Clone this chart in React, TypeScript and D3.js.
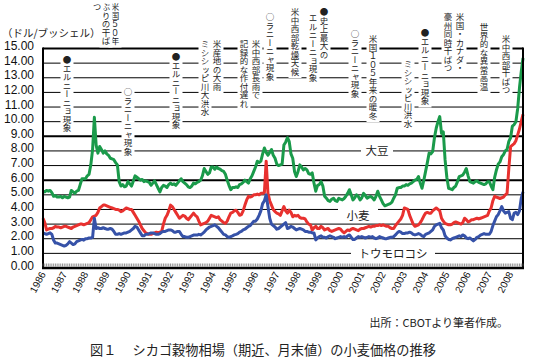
import React from 'react';
import * as d3 from 'd3';

// シカゴ穀物相場（期近、月末値） 1986年1月〜2008年8月
const yearLabels = ['1986', '1987', '1988', '1989', '1990', '1991', '1992', '1993', '1994', '1995', '1996', '1997',
  '1998', '1999', '2000', '2001', '2002', '2003', '2004', '2005', '2006', '2007', '2008'];
const yTicks = [0, 1, 2, 3, 4, 5, 6, 7, 8, 9, 10, 11, 12, 13, 14, 15];

const soybean = [
  5.25, 5.2, 5.3, 5.25, 5.3, 5.15, 4.9, 4.95, 4.85, 4.85, 4.9, 4.8,
  4.9, 4.85, 4.8, 4.85, 5.3, 5.2, 5.1, 5.25, 5.3, 5.7, 6.1, 6.1,
  6.1, 6.3, 6.4, 7.05, 8.1, 10.3, 8.4, 7.85, 8.3, 8.1, 7.85, 8.0,
  7.8, 7.7, 7.5, 7.45, 7.4, 7.2, 7.05, 5.9, 5.6, 5.7, 5.55, 5.6,
  5.9, 5.75, 5.6, 5.95, 6.3, 6.2, 6.1, 6.0, 6.05, 5.9, 5.95, 5.9,
  5.85, 5.65, 5.8, 5.95, 5.7, 5.45, 5.2, 5.5, 5.65, 5.6, 5.5, 5.7,
  5.8, 5.7, 5.75, 5.65, 5.8, 5.95, 6.1, 5.9, 5.8, 5.7, 5.55, 5.5,
  5.6, 5.8, 5.75, 5.85, 5.9, 6.0, 6.3, 6.8, 6.6, 6.4, 6.5, 6.9,
  6.9, 6.75, 6.9, 6.8, 6.75, 6.65, 6.6, 6.4, 6.0, 5.65, 5.35, 5.5,
  5.5, 5.55, 5.5, 5.7, 5.75, 5.85, 6.0, 5.9, 5.8, 6.1, 6.3, 6.6,
  6.9, 7.3, 7.2, 7.3, 7.8, 8.2, 7.9, 7.7, 7.9, 8.1, 7.7, 7.5,
  7.1, 7.0, 7.05, 7.1, 8.4, 8.6, 8.9, 8.65, 7.8, 7.5, 6.6, 6.25,
  6.6, 7.05, 6.9, 6.7, 6.8, 6.7, 6.45, 6.4, 6.5, 5.8, 5.25, 5.65,
  5.7, 5.9, 5.6, 4.9, 4.77, 4.6, 4.55, 4.7, 4.77, 4.6, 4.55, 4.77,
  4.7, 4.65, 4.75, 4.9, 5.1, 5.35, 5.0, 4.65, 4.8, 5.0, 4.9, 4.65,
  4.8, 5.1, 4.95, 4.77, 4.85, 4.9, 4.8, 4.65, 4.9, 5.25, 4.9, 4.65,
  4.4, 4.25, 4.3, 4.35, 4.4, 4.5, 4.77, 5.0, 5.45, 5.5, 5.5, 5.6,
  5.6, 5.7, 5.65, 5.75, 5.8, 5.9, 6.0, 6.05, 6.25, 5.8, 5.45, 6.0,
  6.6, 7.2, 7.85, 7.8, 7.95, 8.9, 9.55, 10.0, 10.35, 9.2, 9.3, 7.4,
  6.2, 5.45, 5.4, 5.35, 5.5, 5.6, 5.9, 6.25, 6.3, 6.35, 6.55, 6.8,
  6.3, 5.9, 5.85, 5.8, 5.9, 5.95, 5.85, 5.8, 5.75, 5.7, 5.75, 5.9,
  5.9, 5.6, 5.35, 6.2, 6.7, 7.1, 7.25, 7.6, 7.75, 8.0, 8.1, 8.65,
  8.9, 9.7, 9.8, 10.0, 10.9, 12.3, 13.4, 14.35,
];

const wheat = [
  3.4, 3.1, 2.6, 2.65, 2.7, 2.7, 2.75, 2.85, 2.8, 2.8, 2.75, 2.8,
  2.85, 2.85, 2.8, 2.75, 2.7, 2.8, 2.85, 2.9, 2.95, 3.0, 3.0, 2.95,
  3.0, 3.05, 3.1, 3.3, 3.5, 3.55, 3.6, 3.8, 4.1, 4.2, 4.3, 4.3,
  4.25, 4.2, 4.15, 4.1, 4.05, 4.0, 4.0, 3.95, 3.85, 3.9, 4.0, 4.1,
  4.05, 4.0, 4.0, 3.8, 3.6, 3.4, 3.2, 2.95, 2.7, 2.55, 2.4, 2.35,
  2.3, 2.3, 2.35, 2.4, 2.45, 2.4, 2.45, 2.5, 3.0, 3.4, 3.6, 3.9,
  4.3, 4.2, 4.0, 3.8, 3.6, 3.4, 3.5, 3.6, 3.55, 3.4, 3.3, 3.45,
  3.6, 3.75, 3.6, 3.5, 3.2, 2.95, 3.0, 3.05, 3.1, 3.2, 3.4, 3.6,
  3.55, 3.5, 3.45, 3.5, 3.3, 3.2, 3.1, 3.05, 3.2, 3.5, 3.75, 3.8,
  3.9, 3.95, 3.8, 3.6, 3.65, 3.9, 4.3, 4.65, 4.9, 4.85, 4.9, 5.0,
  5.0, 5.05, 5.0, 5.1, 5.1, 5.15, 7.3, 5.1, 4.6, 4.3, 4.0, 3.85,
  3.75, 3.7, 3.6, 3.9, 4.2, 3.9, 3.75, 3.95, 3.8, 3.5, 3.6, 3.55,
  3.6, 3.45, 3.4, 3.4, 3.35, 3.15, 3.0, 2.95, 2.6, 2.75, 2.85, 2.7,
  2.7, 2.85, 2.75, 2.6, 2.65, 2.7, 2.55, 2.5, 2.55, 2.6, 2.65, 2.7,
  2.65, 2.5, 2.4, 2.5, 2.6, 2.55, 2.65, 2.7, 2.65, 2.6, 2.55, 2.65,
  2.7, 2.7, 2.75, 2.8, 2.85, 2.8, 2.85, 2.85, 2.9, 2.9, 2.95, 2.9,
  2.95, 2.9, 2.85, 2.85, 2.75, 2.7, 2.7, 2.9, 3.05, 3.2, 3.35, 3.6,
  4.1, 4.05, 4.0, 3.6, 3.3, 3.0, 2.85, 2.9, 2.95, 3.1, 3.3, 3.55,
  3.75, 3.8, 3.75, 3.75, 3.9, 4.0, 4.1, 4.0, 3.9, 3.4, 3.2, 3.05,
  3.0, 2.95, 2.95, 3.0, 3.1, 3.15, 3.1, 3.05, 3.0, 3.1, 3.4, 3.3,
  3.15, 3.2, 3.3, 3.3, 3.35, 3.4, 3.35, 3.4, 3.45, 3.5, 3.55, 3.6,
  3.9, 4.1, 4.6, 4.9, 4.85, 4.8, 4.75, 4.8, 4.85, 5.0, 5.1, 6.8,
  8.3, 8.4, 8.5, 8.7, 9.1, 9.5, 10.0, 10.5,
];

const corn = [
  2.4, 2.35, 2.3, 2.35, 2.4, 2.3, 1.9, 1.7, 1.7, 1.65, 1.6, 1.55,
  1.5, 1.55, 1.65, 1.8, 1.7, 1.6, 1.65, 1.8, 1.85, 1.9, 1.95, 1.9,
  2.0, 2.0, 2.05, 2.05, 2.1, 3.4, 2.7, 2.75, 2.7, 2.7, 2.75, 2.7,
  2.65, 2.65, 2.7, 2.65, 2.5, 2.3, 2.3, 2.35, 2.3, 2.35, 2.4, 2.4,
  2.45, 2.5, 2.6, 2.7, 2.85, 2.8, 2.6, 2.4, 2.2, 2.2, 2.3, 2.3,
  2.35, 2.4, 2.4, 2.35, 2.3, 2.3, 2.35, 2.45, 2.5, 2.5, 2.55, 2.6,
  2.6, 2.55, 2.45, 2.45, 2.5, 2.5, 2.3, 2.15, 2.15, 2.1, 2.1, 2.15,
  2.2, 2.25, 2.26, 2.25, 2.3, 2.26, 2.35, 2.45, 2.6, 2.7, 2.8, 2.85,
  2.9, 2.95, 2.85, 2.75, 2.6, 2.45, 2.3, 2.26, 2.15, 2.1, 2.15, 2.2,
  2.26, 2.3, 2.35, 2.45, 2.5, 2.6, 2.65, 2.75, 2.85, 2.9, 3.05, 3.2,
  3.2, 3.35, 3.6, 3.9, 4.4, 4.6, 5.0, 4.2, 3.4, 3.0, 2.9, 2.8,
  2.65, 2.7, 2.8, 2.9, 3.0, 3.1, 2.7, 2.75, 2.85, 2.8, 2.7, 2.6,
  2.65, 2.7, 2.65, 2.6, 2.5, 2.5, 2.45, 2.45, 2.4, 2.4, 1.92, 2.05,
  2.15, 2.2, 2.1, 2.1, 2.05, 2.15, 2.2, 2.15, 2.1, 2.0, 2.05, 2.1,
  2.15, 2.1, 2.15, 2.1, 2.2, 2.26, 2.1, 1.95, 1.95, 2.05, 2.15, 2.1,
  2.15, 2.1, 2.05, 2.1, 2.15, 2.1, 2.15, 2.05, 2.0, 2.05, 2.15, 2.1,
  2.05, 2.0, 2.0, 2.05, 2.1, 2.1, 2.15, 2.26, 2.4, 2.5, 2.45, 2.35,
  2.35, 2.4, 2.4, 2.45, 2.4, 2.3, 2.26, 2.3, 2.35, 2.3, 2.2, 2.15,
  2.3, 2.35, 2.4, 2.5, 2.6, 2.85, 2.95, 3.0, 3.05, 2.75, 2.6, 2.2,
  2.05, 1.95, 1.92, 2.0, 2.05, 2.1, 2.15, 2.2, 2.15, 2.26, 2.2, 2.05,
  2.0, 2.05, 1.95, 1.85, 1.95, 2.1, 2.15, 2.25, 2.3, 2.35, 2.3, 2.3,
  2.3, 2.5, 2.9, 3.2, 3.5, 3.65, 3.9, 4.2, 3.9, 3.75, 3.8, 3.85,
  3.4, 3.3, 3.75, 3.8, 3.65, 3.9, 4.75, 5.2,
];

const seriesNames = ['大豆', '小麦', 'トウモロコシ'];

// 縦書きの注記（列ごと、右から左）
const notes = [
  { x: 67, y: 56, text: '●エルニーニョ現象' },
  { x: 115, y: 3, text: '米国５０年' },
  { x: 106, y: 3, text: 'ぶりの干ば' },
  { x: 97, y: 3, text: 'つ' },
  { x: 128, y: 88, text: '○ラニーニャ現象' },
  { x: 176, y: 53, text: '●エルニーニョ現象' },
  { x: 217, y: 40, text: '米産地の大雨' },
  { x: 205, y: 40, text: 'ミシシッピ川大洪水' },
  { x: 256, y: 40, text: '米中西部長雨で' },
  { x: 244, y: 40, text: '記録的な作付遅れ' },
  { x: 270, y: 13, text: '○ラニーニャ現象' },
  { x: 295, y: 8, text: '米中西部乾燥天候' },
  { x: 324, y: 8, text: '●史上最大の' },
  { x: 313, y: 14, text: 'エルニーニョ現象' },
  { x: 355, y: 30, text: '○ラニーニャ現象' },
  { x: 373, y: 35, text: '米国１０５年来の暖冬' },
  { x: 425, y: 29, text: '●エルニーニョ現象' },
  { x: 408, y: 60, text: 'ミシシッピ川洪水' },
  { x: 460, y: 13, text: '米国・カナダ・' },
  { x: 448, y: 13, text: '豪州同時干ばつ' },
  { x: 484, y: 23, text: '世界的な異常高温' },
  { x: 506, y: 35, text: '米中西部干ばつ' },
];

const JP = '"Noto Sans CJK JP", sans-serif';
const NUM = '"Liberation Sans", Arial, sans-serif';

export default function App() {
  const x = d3.scaleLinear().domain([0, soybean.length - 1]).range([43, 523]);
  const y = d3.scaleLinear().domain([0, 15]).range([268, 48.5]);
  const line = d3.line<number>().x((_, i) => x(i)).y((d) => y(d));

  const series = [
    { name: seriesNames[0], values: soybean, color: '#1a9a4a', lx: 377, ly: y(8), bw: 32 },
    { name: seriesNames[1], values: wheat, color: '#e8312f', lx: 358, ly: y(3.6), bw: 40 },
    { name: seriesNames[2], values: corn, color: '#3652a8', lx: 393, ly: y(1), bw: 84 },
  ];
  const fs = 8.5;

  return (
    <svg width={537} height={363} style={{ position: 'absolute', left: 0, top: 0, background: '#fff' }}>
      <rect width={537} height={363} fill="#fff" />
      {/* gridlines */}
      {yTicks.slice(1).map((t) => (
        <line key={t} x1={43} x2={523} y1={y(t)} y2={y(t)} stroke="#000"
          strokeWidth={t === 6 || t === 9 || t === 15 ? 2 : 1} />
      ))}
      {/* y tick labels */}
      {yTicks.map((t) => (
        <text key={t} x={34} y={y(t) + 1.5} textAnchor="end" fontFamily={NUM} fontSize={12} fill="#111">
          {t.toFixed(2)}
        </text>
      ))}
      <text x={2} y={37} fontFamily={JP} fontSize={10.5} fill="#222">（ドル/ブッシェル）</text>

      {/* notes */}
      {notes.map((n, i) => (
        <g key={i}>
          <rect x={n.x - 6.5} y={n.y - 1} width={13} height={[...n.text].length * fs + 3} fill="#fff" />
          <text x={n.x} y={n.y} fontFamily={JP} fontSize={fs} fill="#222" style={{ writingMode: 'vertical-rl' }}>
            {n.text}
          </text>
        </g>
      ))}

      {/* series labels */}
      {series.map((s) => (
        <g key={s.name}>
          <rect x={s.lx - s.bw / 2} y={s.ly - 9} width={s.bw} height={16} fill="#fff" />
          <text x={s.lx} y={s.ly + 4.5} textAnchor="middle" fontFamily={JP} fontSize={11.5} fill="#222">
            {s.name}
          </text>
        </g>
      ))}

      {/* lines */}
      {series.map((s) => (
        <path key={s.name} d={line(s.values) || ''} fill="none" stroke={s.color} strokeWidth={3}
          strokeLinejoin="round" />
      ))}

      {/* frame */}
      <line x1={43} x2={43} y1={47.5} y2={269} stroke="#000" strokeWidth={2} />
      <line x1={523} x2={523} y1={47.5} y2={269} stroke="#000" strokeWidth={2} />
      <line x1={42} x2={524} y1={268} y2={268} stroke="#000" strokeWidth={2.5} />
      {d3.range(soybean.length).map((i) => (
        <line key={i} x1={x(i)} x2={x(i)} y1={266.5} y2={263.5} stroke="#666" strokeWidth={0.7} />
      ))}

      {/* x labels */}
      {yearLabels.map((lab, i) => (
        <text key={lab} transform={`translate(${x(i * 12) + 3},274) rotate(-62)`} textAnchor="end"
          fontFamily={NUM} fontSize={10} fill="#111">
          {lab}
        </text>
      ))}

      <text x={508} y={327} textAnchor="end" fontFamily={JP} fontSize={11} fill="#222">出所：CBOTより筆者作成。</text>
      <text x={90} y={355} fontFamily={JP} fontSize={13.2} fill="#222">図１　 シカゴ穀物相場（期近、月末値）の小麦価格の推移</text>
    </svg>
  );
}
